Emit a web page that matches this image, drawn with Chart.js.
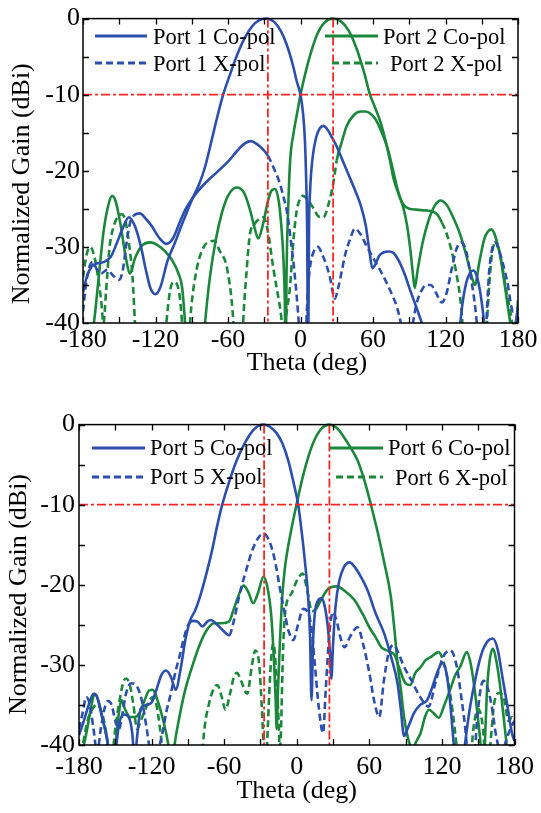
<!DOCTYPE html>
<html><head><meta charset="utf-8">
<script src="https://cdn.jsdelivr.net/npm/chart.js@4"></script>
<style>
html,body{margin:0;padding:0;background:#fff;width:541px;height:813px;overflow:hidden;}
#wrap{position:relative;width:541px;height:813px;}
canvas{position:absolute;left:0;}
.lg{position:absolute;font-family:'Liberation Serif','Times New Roman',serif;font-size:22.5px;line-height:22px;white-space:nowrap;color:#000;}
svg.ls{position:absolute;left:0;top:0;overflow:visible;pointer-events:none;}
</style></head><body>
<div id="wrap">
<canvas id="c1" width="541" height="400" style="top:0;width:541px;height:400px"></canvas>
<canvas id="c2" width="541" height="408" style="top:405px;width:541px;height:408px"></canvas>
</div>
<script>
// ---------------- DATA ----------------
const thetaTicks = [-180, -120, -60, 0, 60, 120, 180];
const gainTicks = [0, -10, -20, -30, -40];
const refAngles = [-27, 27];
const refLevel = -10;
const topLabels = ['Port 1 Co-pol', 'Port 1 X-pol', 'Port 2 Co-pol', 'Port 2 X-pol'];
const bottomLabels = ['Port 5 Co-pol', 'Port 5 X-pol', 'Port 6 Co-pol', 'Port 6 X-pol'];

// [theta (deg), normalized gain (dB)]
const port1Co = [[-180,-36],[-177,-34],[-173,-32.6],[-169,-32.2],[-163,-32],[-157,-31.3],[-152,-29.5],[-147,-27.5],[-142,-26.1],[-137,-27.3],[-132,-30],[-128,-33],[-124,-35.5],[-120,-36.2],[-116,-35.3],[-110,-31.8],[-104,-29.5],[-100,-27.8],[-95,-25.8],[-89,-23.5],[-84,-21.8],[-79,-19.5],[-74,-16.3],[-69,-13],[-64,-10],[-58,-7.2],[-52,-4.6],[-46,-2.5],[-40,-1],[-34,-0.2],[-28,0],[-22,-0.4],[-16,-1.7],[-11,-3.6],[-6,-6.3],[-3,-8.3],[0,-10],[2,-12.3],[3.5,-15.5],[4.5,-20],[5.5,-28],[6.3,-46],[7,-28],[8,-22.5],[10,-18.3],[13,-15.6],[16,-14.4],[19,-14.1],[22,-14.5],[26,-15.6],[30,-16.8],[35,-18.7],[40,-20.6],[45,-22.5],[50,-24.6],[54,-27.2],[57,-30.5],[59.5,-32.8],[62,-32.3],[65,-31.2],[69,-30.7],[73,-30.6],[77,-30.8],[81,-31.7],[86,-33.5],[91,-35.8],[96,-38],[101,-40.3],[106,-43],[112,-46],[128,-46],[131,-42],[134,-37.5],[137,-34.8],[140,-33.5],[143,-33.1],[146,-33.9],[149,-36.2],[152,-40],[155,-46],[172,-46],[176,-42],[180,-38]];
const port1X = [[-180,-38.5],[-178,-35.5],[-175,-32.8],[-172,-32],[-169,-32.8],[-165,-33.5],[-160,-33],[-155,-33.8],[-150,-34.3],[-147,-33],[-144,-29.5],[-141,-26.8],[-138,-25.9],[-133,-25.6],[-128,-26.3],[-123,-27.3],[-117,-28.8],[-111,-29.6],[-106,-29],[-100,-26.8],[-95,-25],[-89,-23.5],[-80,-21.8],[-70,-20.3],[-60,-18.8],[-52,-17.3],[-46,-16.4],[-41,-16.1],[-36,-16.5],[-31,-17.2],[-27,-18],[-22,-19.7],[-17,-21.7],[-14,-23.5],[-11.4,-25.2],[-8.5,-28.5],[-6,-31.8],[-4,-35],[-2,-38.7],[0,-43],[2,-46],[4,-43],[6,-36],[8,-32.5],[11,-30.6],[14.5,-30],[18,-31],[21,-32.2],[24.4,-34],[26.5,-35.8],[28.5,-36.8],[31,-35.5],[34,-33.3],[37,-31],[41,-29],[45,-27.6],[50,-28.4],[55,-30],[60,-31.4],[65,-32.8],[70,-34.3],[75,-36],[80,-38],[83,-40],[86,-43],[89,-44],[92,-41],[96,-37.5],[100,-35.8],[104,-35],[108,-35],[112,-36],[117,-37.3],[121,-36],[125,-33],[129,-30.3],[133,-29.4],[137,-30.5],[141,-34],[145,-38.5],[147,-42],[150,-45],[153,-42],[156,-33.5],[159,-30],[161,-29.4],[164,-30.3],[168,-32.5],[171,-34.5],[176,-38.5],[180,-38]];
const port2Co = [[-180,-43],[-175,-43],[-171,-40],[-167,-34],[-163,-28],[-159,-24.5],[-156,-23.3],[-153,-24],[-149,-27],[-145,-31],[-141,-33.5],[-137,-31.5],[-131,-29.8],[-124,-29.4],[-118,-29.8],[-112,-30.6],[-106,-31.8],[-101,-33.5],[-98,-35.3],[-95.5,-40],[-93,-46],[-82,-46],[-79,-40],[-75,-34],[-70,-29],[-65,-25.5],[-60,-23.3],[-53,-22.2],[-47,-22.8],[-42,-25],[-38,-27.5],[-35,-28.9],[-31,-27],[-27,-24],[-24,-22.6],[-21,-22.4],[-18,-24],[-15.5,-28],[-14,-32],[-13,-37],[-12.3,-46],[-11.5,-33],[-10,-24],[-8.5,-18.5],[-6,-15.3],[-3,-12.6],[0,-10],[4,-7.2],[8,-4.8],[14,-2],[20,-0.5],[27,0],[33,-0.3],[40,-1.6],[47,-4.2],[53,-7.3],[57.5,-10],[62,-11.8],[66,-13.5],[70,-15.8],[74,-18.6],[77,-21],[81,-23],[85,-24.8],[88,-27],[91,-30.5],[93,-33.5],[94.5,-35.4],[97,-33],[101,-29.5],[106,-26.5],[111,-24.6],[116,-23.9],[121,-24.5],[126,-26],[132,-28.3],[137,-31],[141,-33.5],[144.4,-35],[148,-32],[152,-29],[155,-28],[158,-27.7],[161,-28.5],[165,-31],[169,-35],[173.4,-39.8],[176,-43],[178.5,-41],[180,-37]];
const port2X = [[-180,-34],[-177,-31],[-174,-30],[-171,-31],[-168,-33.5],[-165,-37],[-163,-40],[-161,-36],[-158,-30],[-154,-27],[-151,-26],[-148,-25.7],[-145,-26.5],[-142,-29.5],[-139,-34],[-137,-40],[-135,-46],[-114,-46],[-111,-40],[-108,-35.8],[-105,-34.6],[-101,-35.5],[-98,-40],[-96,-46],[-93,-44],[-91,-39],[-86,-33],[-80,-30],[-75,-29.3],[-71,-29.2],[-67,-30.5],[-62,-32],[-60,-33.5],[-57,-37],[-55.5,-40],[-53,-46],[-49,-46],[-47.5,-40],[-45,-34],[-42,-28.5],[-38,-27],[-33,-26.2],[-30.5,-26.1],[-27,-28],[-22.6,-32.7],[-17,-37.9],[-14,-41],[-11,-38],[-8.7,-35.3],[-5.9,-29.2],[-3.1,-25.2],[0,-23.6],[2,-23.3],[6,-23.8],[11,-25],[15,-26],[19,-26.1],[23,-24.5],[27.5,-21.3],[30,-18.6],[34,-16.3],[38,-14.2],[44,-12.7],[50,-12.2],[54,-12.2],[58,-12.5],[62,-13.2],[66,-14.5],[72,-17],[77,-20.2],[81,-22.8],[85,-24.4],[90,-25],[96,-25.1],[102,-25.2],[108,-25.3],[113,-25.7],[117,-26.8],[121,-28.3],[125,-30.5],[129,-33.5],[132,-36.5],[134,-40],[136,-46],[152,-46],[155,-38],[158,-31.5],[161,-29.5],[164,-30.2],[167,-32.5],[170,-35.5],[173,-38],[175,-40],[177,-45],[180,-40]];

const port5Co = [[-180,-38.8],[-176,-37],[-172,-35],[-168,-33.6],[-165,-34],[-161,-36.5],[-157,-39],[-153,-43],[-150,-41],[-147,-37.5],[-143,-36.2],[-139,-36.5],[-136,-38.5],[-134,-42],[-132,-39],[-129,-35.5],[-124,-35],[-120,-34.7],[-116,-33.1],[-112,-31.3],[-108,-30.7],[-104,-31.5],[-100,-33.1],[-96,-30.5],[-92,-26.8],[-88,-24.4],[-84,-23.2],[-80,-21.5],[-75,-18.8],[-70,-15.7],[-66,-12.8],[-61.6,-10],[-56,-7.2],[-50,-4.6],[-43,-2.3],[-36,-0.7],[-31,-0.1],[-27,0],[-22,-0.3],[-17,-1],[-12,-2.3],[-7,-4.5],[-3,-7],[1.2,-10],[4,-13.3],[6.7,-17],[9.4,-21.5],[11,-26.5],[12.2,-34.4],[13.5,-27],[15,-23.5],[17.5,-22],[20.4,-21.7],[23,-22.6],[25.5,-25],[27.5,-28.5],[28.6,-31.7],[30,-27.5],[32,-22.8],[35,-19.6],[39,-17.8],[43.6,-17.2],[48,-17.8],[53,-19],[58.6,-20.7],[65,-23.5],[72.3,-26.1],[78,-29],[83.3,-32.3],[86,-35.5],[88.7,-38.9],[92,-37.8],[97,-36],[102,-35],[107.8,-34.4],[112,-32.8],[116,-31],[120.2,-29.8],[123,-30.5],[126,-33.5],[129.7,-39.8],[132,-44],[136,-44],[139,-40],[143,-35.5],[148,-31.5],[153,-28.5],[158,-27],[162,-26.7],[166,-28],[170,-31.5],[174,-35],[178,-38.6],[180,-39.5]];
const port5X = [[-180,-38],[-177,-36],[-174,-34],[-171,-35],[-168,-38],[-165,-41],[-162,-38],[-159,-35.5],[-156,-34.5],[-153,-35],[-150,-37],[-147,-38],[-144,-36],[-141,-33.5],[-137,-32.3],[-133,-32.5],[-128,-34.5],[-124,-38],[-120,-42],[-117,-43],[-114,-40.5],[-111,-38.5],[-108,-36],[-104,-33.5],[-100,-30.7],[-97,-29],[-93,-26.5],[-89,-24.8],[-86,-24.5],[-82,-24.6],[-78,-25.2],[-74,-24.6],[-71,-24.4],[-67,-24.8],[-63,-25.4],[-59,-26],[-56,-26.3],[-52,-24.5],[-47,-21],[-42,-18.3],[-37,-15.8],[-32,-14.2],[-27.5,-13.6],[-22,-14.8],[-18,-17],[-13.6,-20.7],[-10,-23.5],[-6.9,-25.7],[-2.8,-26.9],[1,-25],[5.3,-23],[9,-23.4],[12,-25.2],[15,-30],[18,-35],[21.7,-38.5],[24,-33],[27,-26],[29.9,-23.4],[33,-24.5],[36,-26.5],[39.5,-27.8],[44,-26.5],[50.4,-25.3],[55,-27.5],[60,-31],[64,-34.5],[68.2,-36.5],[72,-32],[76,-28.5],[80,-27.5],[84,-28.5],[88,-30],[95,-32],[102,-34],[109,-35.2],[115,-32],[121,-29],[127,-28.2],[132,-30],[136,-34],[140,-39],[142,-43],[146,-43],[149,-37],[152,-33],[154.5,-32],[157,-32.5],[161,-35],[165,-39],[169,-41],[174,-39],[178,-37.5],[180,-37]];
const port6Co = [[-180,-42],[-176,-40],[-172,-37],[-169,-34.5],[-167,-33.6],[-164,-34.5],[-160,-37],[-156,-40],[-153,-43],[-150,-40],[-147,-36],[-145,-34.4],[-142,-35.5],[-138,-36.5],[-134,-36.5],[-130,-36],[-126,-34.5],[-122,-33.2],[-119,-33.1],[-116,-34],[-112,-36],[-108,-38.5],[-105,-41],[-103,-43],[-101,-40],[-97,-36.5],[-92,-33],[-86,-30],[-80.8,-27.7],[-75,-25.8],[-68.5,-24.8],[-62,-24.8],[-56,-24.6],[-52,-23],[-48,-21.3],[-44,-20.1],[-40,-20.9],[-36,-22.3],[-32,-21],[-27.5,-19],[-24,-20.5],[-21,-24],[-19,-29],[-17.5,-34],[-16.6,-38],[-15.5,-33],[-14,-27.5],[-12,-21.5],[-9.7,-17.8],[-5,-13.5],[-0.2,-10],[5,-6.5],[10,-3.8],[15,-1.8],[21,-0.4],[27,0],[33,-0.4],[40,-1.8],[45,-3],[50.4,-4.5],[56,-7],[61.3,-10],[67,-13.5],[72,-17],[77.8,-21.5],[81,-26],[83.3,-29.8],[86,-33],[88.7,-36.5],[92.8,-39.6],[96,-40.3],[99,-39.5],[102.4,-38.5],[106,-36.5],[109.2,-35.6],[113,-36],[117.4,-36.6],[122,-35],[127,-33],[131,-31.3],[135.2,-30.2],[140.6,-28.4],[144,-30],[147,-33],[150,-37],[152,-40],[154,-45],[155.5,-40],[157,-34],[159,-30],[162,-28],[165,-29.5],[168,-32.5],[171,-36.5],[173.4,-39.8],[176,-43],[180,-43]];
const port6X = [[-180,-41],[-177,-40],[-173,-37],[-169,-35.5],[-165,-35],[-161,-36],[-157,-39],[-154,-43],[-150,-38],[-146,-34],[-143,-32],[-141,-31.7],[-138,-32.5],[-135,-35],[-132,-38],[-129,-37],[-125,-35.5],[-122,-34.5],[-119,-34],[-116,-35],[-113,-38],[-110,-42],[-106,-46],[-80,-46],[-77,-39],[-72,-34.5],[-68,-32.8],[-65.7,-32.5],[-62,-34],[-59,-35.6],[-55,-33.5],[-52,-31.5],[-49.4,-31],[-46,-32],[-41,-33.6],[-37,-30],[-34.3,-28.2],[-31,-30],[-29,-35],[-27.5,-40],[-26,-45],[-24,-38],[-21.5,-30],[-19.3,-27.3],[-17,-31],[-15,-37],[-14,-41],[-13,-38],[-11.5,-29],[-9.7,-23.6],[-4,-21],[0,-19.5],[5,-18.6],[9,-21],[12.5,-23.3],[16,-23],[20,-21.9],[26,-20.5],[32.7,-20.2],[40,-20.8],[47.7,-21.9],[55,-23.8],[60,-25.3],[65,-26.5],[70,-27.8],[76,-28.3],[81,-28.8],[85,-30.5],[90,-32.3],[94,-32.5],[98,-31],[102.4,-30.3],[106,-29.5],[111,-29],[117.4,-28.4],[121,-29.5],[125,-32],[129,-36],[132,-40],[135,-45],[142,-45],[146,-38],[150,-35.5],[154,-38],[157,-44],[160,-40],[163,-35],[167,-33.5],[171,-34],[175,-37],[178,-36.5],[180,-37]];

// ---------------- STYLE / RENDER ----------------
const BLUE = '#2C4FAD', GREEN = '#1B873B', RED = '#FF2424';
const DASH = [7, 4];
const FONT = "'Liberation Serif', 'Times New Roman', serif";
Chart.defaults.font.family = FONT;
Chart.defaults.color = '#000';

function curve(label, pairs, color, dashed, solidRange) {
  const ds = {
    label, data: pairs.map(p => ({x: p[0], y: p[1]})),
    borderColor: color, borderWidth: 2.6, pointRadius: 0, fill: false,
    cubicInterpolationMode: 'monotone', borderDash: dashed ? DASH : [],
    clip: {left: 0, right: 0, top: 3, bottom: 0}
  };
  if (dashed && solidRange) {
    ds.segment = { borderDash: c => {
      const m = (c.p0.parsed.x + c.p1.parsed.x) / 2;
      return (m >= solidRange[0] && m <= solidRange[1]) ? [] : DASH;
    }};
  }
  return ds;
}
function refSets() {
  const out = refAngles.map(a => ({data: [{x: a, y: gainTicks[0]}, {x: a, y: gainTicks[gainTicks.length - 1]}]}));
  out.push({data: [{x: thetaTicks[0], y: refLevel}, {x: thetaTicks[thetaTicks.length - 1], y: refLevel}]});
  return out.map(d => Object.assign(d, {borderColor: RED, borderWidth: 1.8, borderDash: [9, 3, 3, 3], pointRadius: 0, fill: false, tension: 0, clip: 0}));
}
const framePlugin = {
  id: 'frame',
  afterDatasetsDraw(chart) {
    const {ctx, chartArea: a, scales: {x, y}} = chart;
    ctx.save();
    ctx.strokeStyle = '#000';
    ctx.lineWidth = 1.5;
    ctx.strokeRect(a.left, a.top, a.right - a.left, a.bottom - a.top);
    ctx.lineWidth = 1.3;
    ctx.beginPath();
    for (let t = x.min; t <= x.max; t += 30) {
      const px = Math.round(x.getPixelForValue(t)) + 0.5;
      ctx.moveTo(px, a.bottom); ctx.lineTo(px, a.bottom - 6);
      ctx.moveTo(px, a.top); ctx.lineTo(px, a.top + 6);
    }
    for (let g = y.min; g <= y.max; g += 5) {
      const py = Math.round(y.getPixelForValue(g)) + 0.5;
      ctx.moveTo(a.left, py); ctx.lineTo(a.left + 6, py);
      ctx.moveTo(a.right, py); ctx.lineTo(a.right - 6, py);
    }
    ctx.stroke();
    ctx.restore();
  }
};

function build(canvasId, datasets, L) {
  return new Chart(document.getElementById(canvasId), {
    type: 'line',
    data: {datasets},
    options: {
      responsive: false, animation: false, devicePixelRatio: 1,
      layout: {padding: {left: 0, right: L.right, top: L.top, bottom: 0}},
      plugins: {legend: {display: false}, tooltip: {enabled: false}},
      scales: {
        x: {
          type: 'linear', min: thetaTicks[0], max: thetaTicks[thetaTicks.length - 1],
          afterBuildTicks: s => { s.ticks = thetaTicks.map(v => ({value: v})); },
          ticks: {font: {size: 26}, padding: L.xPad, maxRotation: 0, autoSkip: false},
          grid: {display: false, drawTicks: false, tickLength: 0}, border: {display: false},
          title: {display: true, text: L.xTitle, font: {size: 26}, padding: {top: 0, bottom: L.xTitlePad}},
          afterFit: s => { s.height = L.xH; }
        },
        y: {
          type: 'linear', min: gainTicks[gainTicks.length - 1], max: gainTicks[0],
          afterBuildTicks: s => { s.ticks = gainTicks.map(v => ({value: v})); },
          ticks: {font: {size: 26}, padding: L.yPad},
          grid: {display: false, drawTicks: false, tickLength: 0}, border: {display: false},
          title: {display: true, text: L.yTitle, font: {size: 26}, padding: {top: L.yTitlePad, bottom: 0}},
          afterFit: s => { s.width = L.yW; }
        }
      }
    },
    plugins: [framePlugin]
  });
}

const NB = '\u00A0';
build('c1', [...refSets(),
  curve(topLabels[0], port1Co, BLUE, false),
  curve(topLabels[1], port1X, BLUE, true, [-138, -27]),
  curve(topLabels[2], port2Co, GREEN, false),
  curve(topLabels[3], port2X, GREEN, true, [30, 116])
], {right: 23, top: 17, xH: 77, yW: 83, xPad: 2, yPad: 3, xTitlePad: 21, yTitlePad: 7,
    xTitle: NB + NB + 'Theta (deg)', yTitle: 'Normalized Gain (dBi)' + NB.repeat(4)});

build('c2', [...refSets(),
  curve(bottomLabels[0], port5Co, BLUE, false),
  curve(bottomLabels[1], port5X, BLUE, true, [-90, -56]),
  curve(bottomLabels[2], port6Co, GREEN, false),
  curve(bottomLabels[3], port6X, GREEN, true, [16, 118])
], {right: 23, top: 19, xH: 68, yW: 79, xPad: 7, yPad: 4, xTitlePad: 6, yTitlePad: 4,
    xTitle: 'Theta (deg)', yTitle: 'Normalized Gain (dBi)' + NB.repeat(3)});

// ---------------- LEGENDS (HTML) ----------------
const wrap = document.getElementById('wrap');
const svgNS = 'http://www.w3.org/2000/svg';
const svg = document.createElementNS(svgNS, 'svg');
svg.setAttribute('class', 'ls'); svg.setAttribute('width', 541); svg.setAttribute('height', 813);
wrap.appendChild(svg);
function legendItem(text, color, dashed, x1, x2, ly, tx, baseline) {
  const ln = document.createElementNS(svgNS, 'line');
  ln.setAttribute('x1', x1); ln.setAttribute('x2', x2); ln.setAttribute('y1', ly); ln.setAttribute('y2', ly);
  ln.setAttribute('stroke', color); ln.setAttribute('stroke-width', 2.8);
  if (dashed) ln.setAttribute('stroke-dasharray', '7 4');
  svg.appendChild(ln);
  const d = document.createElement('div');
  d.className = 'lg'; d.textContent = text;
  d.style.left = tx + 'px'; d.style.top = (baseline - 18.4) + 'px';
  wrap.appendChild(d);
}
legendItem(topLabels[0], BLUE, false, 95, 147, 36, 153, 44.3);
legendItem(topLabels[1], BLUE, true, 95, 147, 63, 153, 71);
legendItem(topLabels[2], GREEN, false, 325, 378, 36, 383, 44.3);
legendItem(topLabels[3], GREEN, true, 332, 378, 63, 390, 71);
legendItem(bottomLabels[0], BLUE, false, 92, 145, 448, 150, 455.7);
legendItem(bottomLabels[1], BLUE, true, 92, 145, 477, 150, 484);
legendItem(bottomLabels[2], GREEN, false, 330, 383, 448, 388, 455.7);
legendItem(bottomLabels[3], GREEN, true, 336, 383, 477, 395, 485);
</script>
</body></html>
